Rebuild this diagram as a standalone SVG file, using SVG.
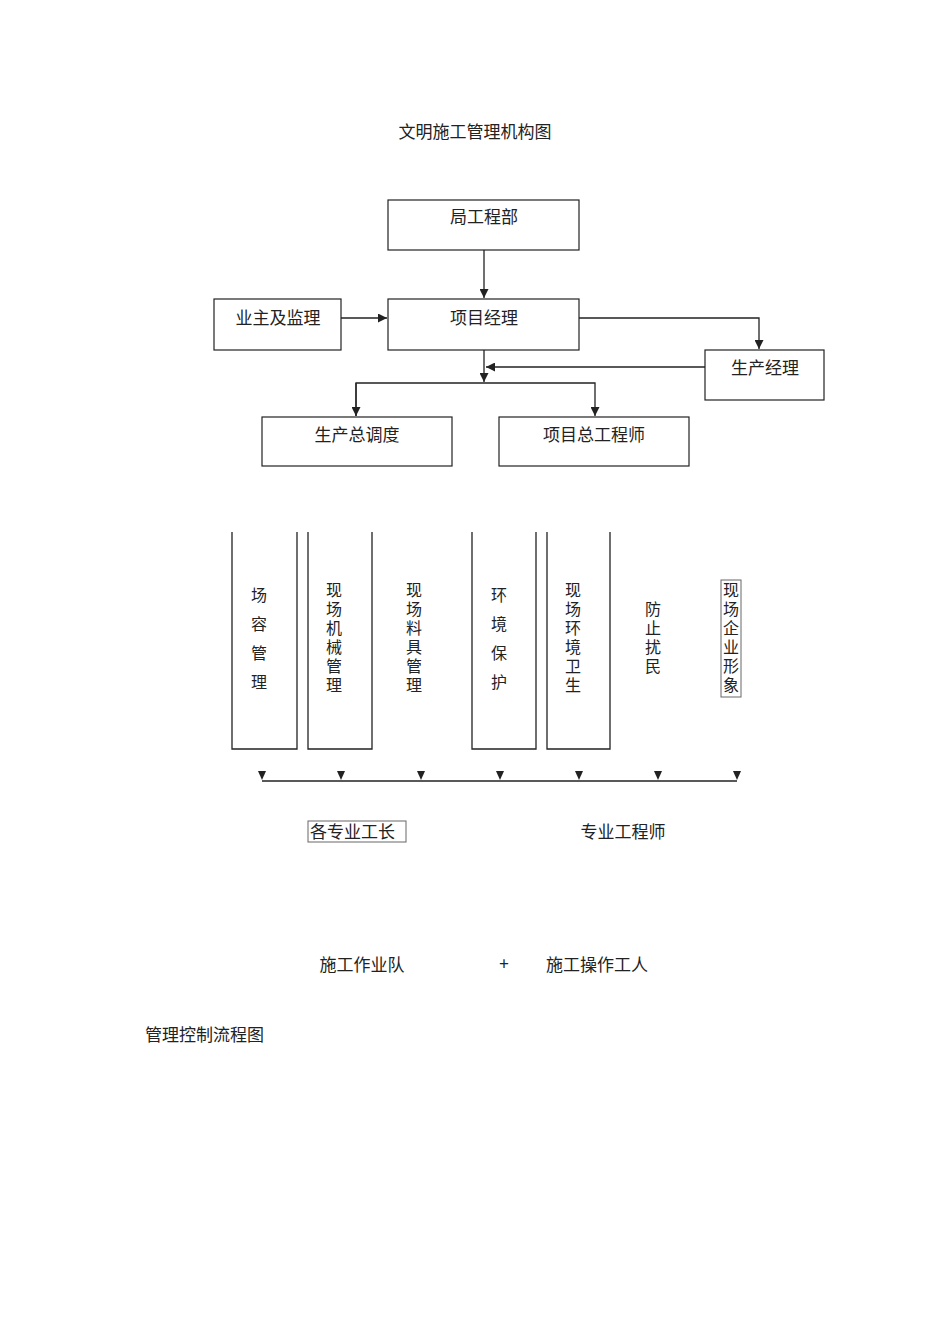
<svg xmlns="http://www.w3.org/2000/svg" width="950" height="1344" viewBox="0 0 950 1344">
<style>
text{font-family:"Noto Sans CJK SC","Noto Sans CJK JP",sans-serif;font-size:17px;fill:#222}
.v{font-size:16px}
.b{fill:#fff;stroke:#222;stroke-width:1.2}
.l{fill:none;stroke:#222;stroke-width:1.3}
</style>
<defs><marker id="a" viewBox="0 0 10 10" refX="10" refY="5" markerWidth="9" markerHeight="9" markerUnits="userSpaceOnUse" orient="auto"><path d="M0,0L10,5L0,10z" fill="#222"/></marker></defs>
<rect width="950" height="1344" fill="#fff"/>
<text x="475" y="138" text-anchor="middle">文明施工管理机构图</text>
<g id="connectors">
<path class="l" d="M484,250V298" marker-end="url(#a)"/>
<path class="l" d="M341,318H387" marker-end="url(#a)"/>
<path class="l" d="M579,318H759V349" marker-end="url(#a)"/>
<path class="l" d="M484,350V382" marker-end="url(#a)"/>
<path class="l" d="M705,367H486" marker-end="url(#a)"/>
<path class="l" d="M356,416V383H595V416" marker-end="url(#a)"/>
<path class="l" d="M356,383V416" marker-end="url(#a)"/>
<path class="l" d="M262,781H737"/>
<g fill="#222"><path d="M258,771h8l-4,9z"/><path d="M337,771h8l-4,9z"/><path d="M417,771h8l-4,9z"/><path d="M496,771h8l-4,9z"/><path d="M575,771h8l-4,9z"/><path d="M654,771h8l-4,9z"/><path d="M733,771h8l-4,9z"/></g>
</g>
<g id="n1"><rect class="b" x="388" y="200" width="191" height="50"/><text x="484" y="223" text-anchor="middle">局工程部</text></g>
<g id="n2"><rect class="b" x="388" y="299" width="191" height="51"/><text x="484" y="324" text-anchor="middle">项目经理</text></g>
<g id="n3"><rect class="b" x="214" y="299" width="127" height="51"/><text x="278" y="324" text-anchor="middle">业主及监理</text></g>
<g id="n4"><rect class="b" x="705" y="350" width="119" height="50"/><text x="765" y="374" text-anchor="middle">生产经理</text></g>
<g id="n5"><rect class="b" x="262" y="417" width="190" height="49"/><text x="357" y="441" text-anchor="middle">生产总调度</text></g>
<g id="n6"><rect class="b" x="499" y="417" width="190" height="49"/><text x="594" y="441" text-anchor="middle">项目总工程师</text></g>
<g id="c1"><path class="l" d="M232,532V749H297V532"/><text class="v" text-anchor="middle"><tspan x="259" y="601">场</tspan><tspan x="259" y="630">容</tspan><tspan x="259" y="659">管</tspan><tspan x="259" y="688">理</tspan></text></g>
<g id="c2"><path class="l" d="M308,532V749H372V532"/><text class="v" text-anchor="middle"><tspan x="334" y="596">现</tspan><tspan x="334" y="615">场</tspan><tspan x="334" y="634">机</tspan><tspan x="334" y="653">械</tspan><tspan x="334" y="672">管</tspan><tspan x="334" y="691">理</tspan></text></g>
<g id="c3"><text class="v" text-anchor="middle"><tspan x="414" y="596">现</tspan><tspan x="414" y="615">场</tspan><tspan x="414" y="634">料</tspan><tspan x="414" y="653">具</tspan><tspan x="414" y="672">管</tspan><tspan x="414" y="691">理</tspan></text></g>
<g id="c4"><path class="l" d="M472,532V749H536V532"/><text class="v" text-anchor="middle"><tspan x="499" y="601">环</tspan><tspan x="499" y="630">境</tspan><tspan x="499" y="659">保</tspan><tspan x="499" y="688">护</tspan></text></g>
<g id="c5"><path class="l" d="M547,532V749H610V532"/><text class="v" text-anchor="middle"><tspan x="573" y="596">现</tspan><tspan x="573" y="615">场</tspan><tspan x="573" y="634">环</tspan><tspan x="573" y="653">境</tspan><tspan x="573" y="672">卫</tspan><tspan x="573" y="691">生</tspan></text></g>
<g id="c6"><text class="v" text-anchor="middle"><tspan x="653" y="615">防</tspan><tspan x="653" y="634">止</tspan><tspan x="653" y="653">扰</tspan><tspan x="653" y="672">民</tspan></text></g>
<g id="c7"><rect x="721" y="580" width="20" height="117" fill="none" stroke="#666" stroke-width="1"/><text class="v" text-anchor="middle"><tspan x="731" y="596">现</tspan><tspan x="731" y="615">场</tspan><tspan x="731" y="634">企</tspan><tspan x="731" y="653">业</tspan><tspan x="731" y="672">形</tspan><tspan x="731" y="691">象</tspan></text></g>
<g id="t1"><rect x="308" y="821" width="98" height="21" fill="none" stroke="#666" stroke-width="1"/><text x="310" y="838">各专业工长</text></g>
<text x="623" y="838" text-anchor="middle">专业工程师</text>
<text x="362" y="971" text-anchor="middle">施工作业队</text>
<text x="504" y="970" text-anchor="middle">+</text>
<text x="597" y="971" text-anchor="middle">施工操作工人</text>
<text x="145" y="1041">管理控制流程图</text>
</svg>
